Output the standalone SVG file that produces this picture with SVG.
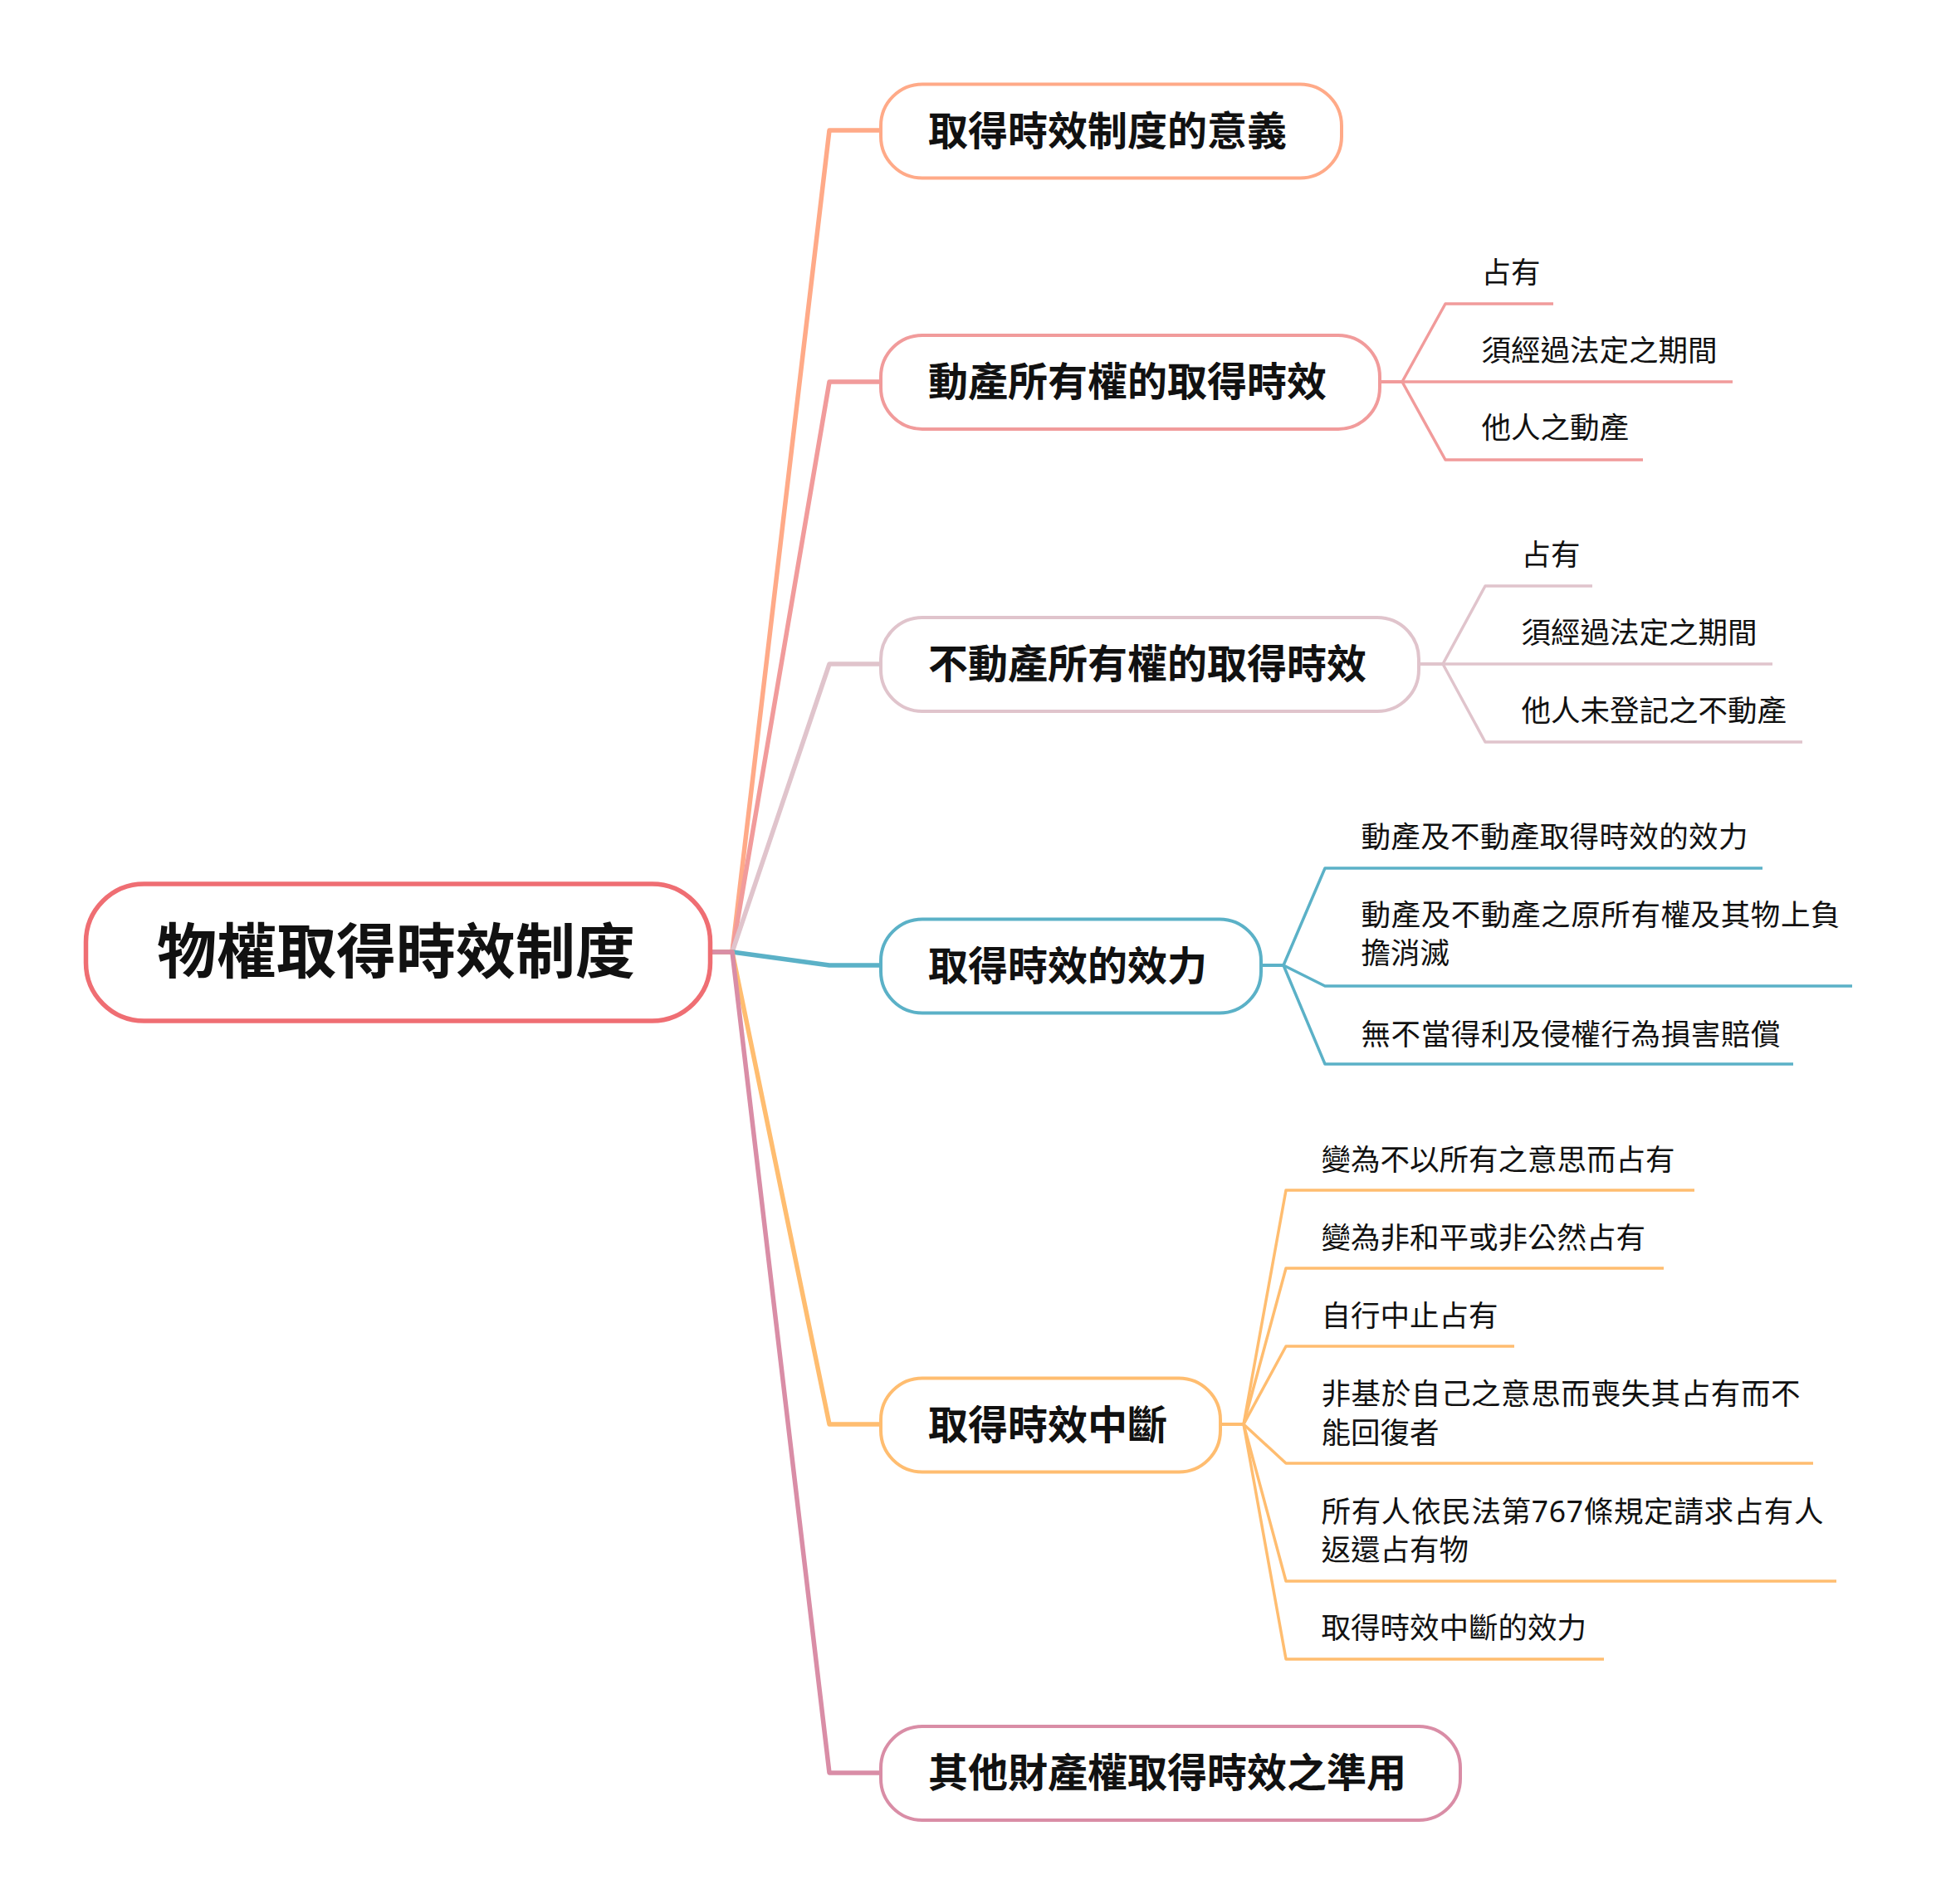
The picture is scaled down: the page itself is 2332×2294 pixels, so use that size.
<svg xmlns="http://www.w3.org/2000/svg" width="2332" height="2294" viewBox="0 0 2332 2294">
<style>
text{font-family:'Noto Sans','Noto Sans CJK TC','Noto Sans CJK SC',sans-serif;fill:#111}
.t0{font-size:72px;font-weight:700}
.t1{font-size:48px;font-weight:700}
.t2{font-size:35.5px;font-weight:400}
.box{fill:#fff;stroke-width:4}
.main{fill:none;stroke-width:5.5;stroke-linejoin:round}
.sub{fill:none;stroke-width:3.5;stroke-linejoin:round}
</style>
<rect width="2332" height="2294" fill="#fff"/>
<g id="connectors">
  <path class="main" stroke="#FFAA88" d="M856 1147 H882 L999 157 H1061"/>
  <path class="main" stroke="#F19B9B" d="M856 1147 H882 L999 460 H1061"/>
  <path class="main" stroke="#E0C4CC" d="M856 1147 H882 L999 800 H1061"/>
  <path class="main" stroke="#5BB1C7" d="M856 1147 H882 L999 1163 H1061"/>
  <path class="main" stroke="#FFBD70" d="M856 1147 H882 L999 1716 H1061"/>
  <path class="main" stroke="#D98DA6" d="M856 1147 H882 L999 2136 H1061"/>
  <g stroke="#F19B9B">
    <path class="sub" d="M1662 460 H1689 L1741 366 H1871"/>
    <path class="sub" d="M1662 460 H2087"/>
    <path class="sub" d="M1662 460 H1689 L1741 554 H1979"/>
  </g>
  <g stroke="#E0C4CC">
    <path class="sub" d="M1709 800 H1738 L1789 706 H1918"/>
    <path class="sub" d="M1709 800 H2135"/>
    <path class="sub" d="M1709 800 H1738 L1789 894 H2171"/>
  </g>
  <g stroke="#5BB1C7">
    <path class="sub" d="M1519 1163 H1546 L1596 1046 H2123"/>
    <path class="sub" d="M1519 1163 H1546 L1596 1188 H2231"/>
    <path class="sub" d="M1519 1163 H1546 L1596 1282 H2160"/>
  </g>
  <g stroke="#FFBD70">
    <path class="sub" d="M1470 1716 H1498 L1549 1434 H2041"/>
    <path class="sub" d="M1470 1716 H1498 L1549 1528 H2004"/>
    <path class="sub" d="M1470 1716 H1498 L1549 1622 H1824"/>
    <path class="sub" d="M1470 1716 H1498 L1549 1763 H2184"/>
    <path class="sub" d="M1470 1716 H1498 L1549 1905 H2212"/>
    <path class="sub" d="M1470 1716 H1498 L1549 1999 H1932"/>
  </g>
</g>
<g id="root">
  <rect x="103.5" y="1065" width="752" height="165" rx="70" ry="70" fill="#fff" stroke="#EF6E73" stroke-width="5.5"/>
  <text class="t0" x="189" y="1172">物權取得時效制度</text>
</g>
<g id="b1">
  <rect class="box" stroke="#FFAA88" x="1061" y="101.5" width="555" height="113" rx="50"/>
  <text class="t1" x="1118" y="175">取得時效制度的意義</text>
</g>
<g id="b2">
  <rect class="box" stroke="#F19B9B" x="1061" y="404" width="601" height="113" rx="50"/>
  <text class="t1" x="1118" y="477">動產所有權的取得時效</text>
</g>
<g id="b2c1"><text class="t2" x="1784.5" y="341">占有</text></g>
<g id="b2c2"><text class="t2" x="1784.5" y="434.5">須經過法定之期間</text></g>
<g id="b2c3"><text class="t2" x="1784.5" y="527.5">他人之動產</text></g>
<g id="b3">
  <rect class="box" stroke="#E0C4CC" x="1061" y="744" width="648" height="113" rx="50"/>
  <text class="t1" x="1118" y="817">不動產所有權的取得時效</text>
</g>
<g id="b3c1"><text class="t2" x="1832.5" y="680.5">占有</text></g>
<g id="b3c2"><text class="t2" x="1832.5" y="774.5">須經過法定之期間</text></g>
<g id="b3c3"><text class="t2" x="1832.5" y="868.5">他人未登記之不動產</text></g>
<g id="b4">
  <rect class="box" stroke="#5BB1C7" x="1061" y="1107.5" width="458" height="113" rx="50"/>
  <text class="t1" x="1118" y="1181">取得時效的效力</text>
</g>
<g id="b4c1"><text class="t2" x="1639.5" y="1021" textLength="466" lengthAdjust="spacing">動產及不動產取得時效的效力</text></g>
<g id="b4c2">
  <text class="t2" x="1639.5" y="1114.5" textLength="577" lengthAdjust="spacing">動產及不動產之原所有權及其物上負</text>
  <text class="t2" x="1639.5" y="1161">擔消滅</text>
</g>
<g id="b4c3"><text class="t2" x="1639.5" y="1258.5" textLength="505" lengthAdjust="spacing">無不當得利及侵權行為損害賠償</text></g>
<g id="b5">
  <rect class="box" stroke="#FFBD70" x="1061" y="1660.5" width="409" height="113" rx="50"/>
  <text class="t1" x="1118" y="1734">取得時效中斷</text>
</g>
<g id="b5c1"><text class="t2" x="1591.5" y="1409.5">變為不以所有之意思而占有</text></g>
<g id="b5c2"><text class="t2" x="1591.5" y="1503.5">變為非和平或非公然占有</text></g>
<g id="b5c3"><text class="t2" x="1591.5" y="1597.5">自行中止占有</text></g>
<g id="b5c4">
  <text class="t2" x="1591.5" y="1691.5" textLength="577" lengthAdjust="spacing">非基於自己之意思而喪失其占有而不</text>
  <text class="t2" x="1591.5" y="1738.5">能回復者</text>
</g>
<g id="b5c5">
  <text class="t2" x="1591.5" y="1833.5" textLength="605" lengthAdjust="spacing">所有人依民法第767條規定請求占有人</text>
  <text class="t2" x="1591.5" y="1880">返還占有物</text>
</g>
<g id="b5c6"><text class="t2" x="1591.5" y="1973.5">取得時效中斷的效力</text></g>
<g id="b6">
  <rect class="box" stroke="#D98DA6" x="1061" y="2080" width="698" height="113" rx="50"/>
  <text class="t1" x="1118" y="2153">其他財產權取得時效之準用</text>
</g>
</svg>
